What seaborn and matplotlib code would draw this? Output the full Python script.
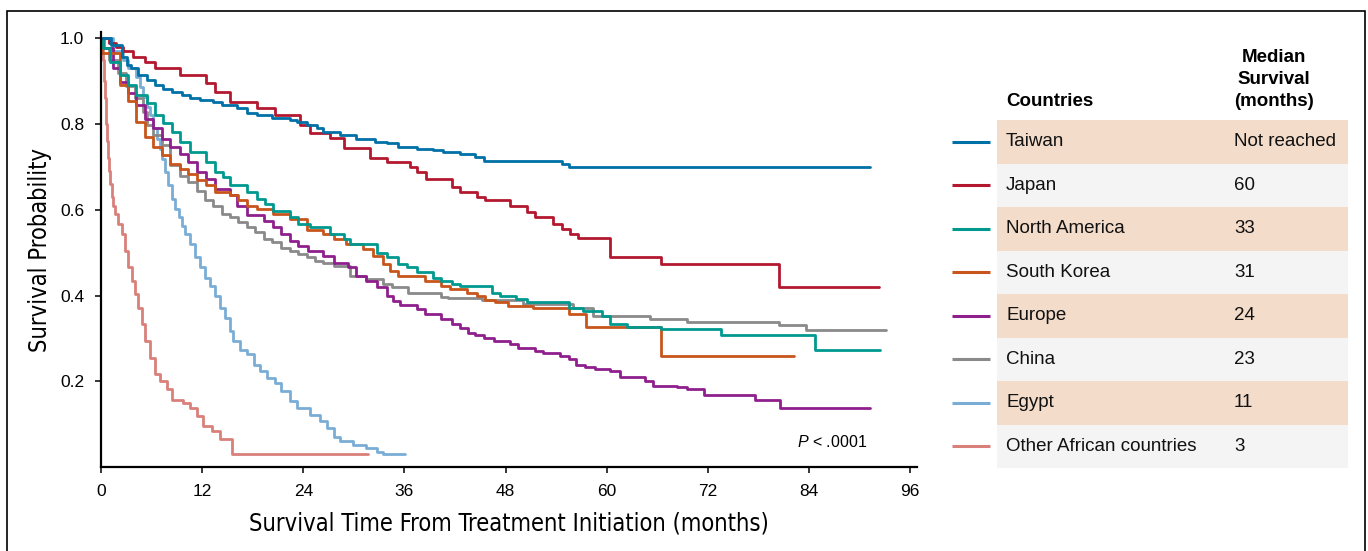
import numpy as np
import pandas as pd
import matplotlib
matplotlib.use("Agg")
import matplotlib.pyplot as plt
from matplotlib.patches import Rectangle
from matplotlib.lines import Line2D
import seaborn as sns

# ---------------- data ----------------
countries = ["Taiwan", "Japan", "North America", "South Korea", "Europe",
             "China", "Egypt", "Other African countries"]
median_survival = ["Not reached", "60", "33", "31", "24", "23", "11", "3"]
colors = ["#0071A7", "#B3182F", "#00998F", "#C8551C", "#8E1F8C",
          "#8A8A8A", "#7AADD6", "#D9807A"]

taiwan_t = [0, 1.15, 2.45, 3.05, 3.6, 4.4, 5.4, 6.4, 7.4, 8.4, 9.6, 10.6, 11.7, 13.3, 14.3, 16.1,
            17.3, 18.5, 20.3, 22.4, 23.2, 24.4, 25.6, 26.4, 28.4, 30.3, 32.5, 33.9, 35.3, 37.5,
            39.4, 40.6, 42.6, 44.4, 45.4, 54.7, 55.5, 91.2]
taiwan_s = [1.0, 0.985, 0.957, 0.938, 0.93, 0.915, 0.903, 0.891, 0.883, 0.875, 0.868, 0.861, 0.856,
            0.851, 0.844, 0.837, 0.827, 0.821, 0.815, 0.809, 0.805, 0.797, 0.79, 0.782, 0.774, 0.766,
            0.758, 0.755, 0.747, 0.743, 0.739, 0.735, 0.73, 0.723, 0.715, 0.708, 0.701, 0.701]

japan_t = [0, 0.9, 1.8, 2.65, 3.8, 5.2, 6.4, 9.4, 12.5, 13.5, 15.3, 18.5, 20.6, 23.6, 24.8, 27.2,
           28.8, 31.9, 33.9, 36.7, 37.5, 38.6, 41.6, 42.6, 44.6, 45.6, 48.5, 50.5, 51.5, 53.6, 54.7,
           55.7, 56.6, 60.4, 66.5, 80.5, 92.3]
japan_s = [1.0, 0.99, 0.98, 0.971, 0.957, 0.946, 0.93, 0.915, 0.896, 0.875, 0.852, 0.837, 0.821,
           0.797, 0.779, 0.767, 0.744, 0.72, 0.711, 0.70, 0.688, 0.673, 0.653, 0.641, 0.63, 0.622,
           0.61, 0.594, 0.584, 0.567, 0.555, 0.544, 0.534, 0.49, 0.473, 0.42, 0.42]

namerica_t = [0, 0.25, 1.05, 2.25, 3.2, 4.2, 5.4, 6.4, 7.4, 8.4, 9.4, 10.6, 12.5, 13.5, 14.5, 15.3,
              17.3, 18.5, 19.5, 20.4, 22.4, 23.4, 24.8, 27.2, 28.8, 29.6, 32.7, 33.9, 35.3, 36.3,
              37.5, 39.4, 40.4, 41.6, 42.6, 46.4, 47.3, 49.3, 50.5, 55.5, 57.2, 59.4, 60.4, 62.4,
              66.5, 73.6, 84.7, 92.4]
namerica_s = [1.0, 0.977, 0.946, 0.915, 0.891, 0.868, 0.849, 0.821, 0.802, 0.782, 0.758, 0.735,
              0.711, 0.688, 0.676, 0.657, 0.641, 0.626, 0.614, 0.598, 0.583, 0.568, 0.559, 0.544,
              0.533, 0.521, 0.50, 0.489, 0.473, 0.466, 0.454, 0.442, 0.434, 0.428, 0.423, 0.407,
              0.399, 0.392, 0.384, 0.372, 0.364, 0.352, 0.334, 0.327, 0.321, 0.308, 0.274, 0.274]

skorea_t = [0, 0.1, 2.25, 3.2, 4.2, 5.2, 6.2, 7.2, 8.2, 9.4, 10.3, 11.4, 12.5, 13.5, 15.3, 16.3,
            17.3, 18.5, 20.4, 22.4, 24.4, 26.4, 27.6, 29.1, 31.1, 32.3, 33.5, 34.3, 35.3, 38.4,
            40.4, 41.4, 43.4, 44.6, 45.6, 46.8, 48.3, 51.3, 55.5, 57.6, 66.5, 82.2]
skorea_s = [1.0, 0.965, 0.891, 0.855, 0.805, 0.77, 0.747, 0.727, 0.708, 0.696, 0.684, 0.669, 0.657,
            0.641, 0.634, 0.622, 0.61, 0.602, 0.591, 0.579, 0.552, 0.544, 0.533, 0.521, 0.509,
            0.493, 0.473, 0.458, 0.446, 0.434, 0.423, 0.415, 0.407, 0.399, 0.389, 0.384, 0.376,
            0.37, 0.358, 0.327, 0.259, 0.259]

europe_t = [0, 0.2, 1.4, 2.25, 3.2, 4.2, 5.2, 6.2, 7.2, 8.2, 9.4, 10.3, 11.4, 12.5, 13.5, 15.3,
            16.1, 17.3, 19.3, 20.4, 21.4, 22.4, 23.4, 24.6, 26.4, 27.6, 29.3, 30.3, 31.5, 32.7,
            33.9, 34.7, 35.5, 37.5, 38.4, 40.4, 41.6, 42.6, 43.6, 44.4, 45.4, 46.6, 48.5, 49.5,
            51.5, 52.5, 54.5, 55.5, 56.4, 57.4, 58.6, 60.4, 61.6, 64.6, 65.5, 68.3, 69.5, 71.5,
            77.6, 80.6, 91.2]
europe_s = [1.0, 0.977, 0.93, 0.899, 0.872, 0.844, 0.813, 0.79, 0.766, 0.747, 0.731, 0.711, 0.688,
            0.673, 0.649, 0.634, 0.608, 0.587, 0.575, 0.559, 0.544, 0.528, 0.516, 0.505, 0.493,
            0.477, 0.466, 0.446, 0.434, 0.419, 0.399, 0.388, 0.378, 0.368, 0.356, 0.345, 0.334,
            0.325, 0.313, 0.308, 0.302, 0.294, 0.286, 0.278, 0.27, 0.266, 0.259, 0.251, 0.239,
            0.233, 0.228, 0.224, 0.21, 0.20, 0.189, 0.186, 0.181, 0.167, 0.157, 0.138, 0.138]

china_t = [0, 0.3, 1.0, 2.0, 3.0, 4.0, 5.0, 5.5, 6.2, 7.2, 8.2, 9.4, 10.3, 11.4, 12.3, 13.3, 14.3,
           15.3, 16.3, 17.3, 18.3, 19.3, 20.3, 21.4, 22.4, 23.4, 24.4, 25.4, 26.4, 27.6, 29.5,
           31.5, 33.5, 34.5, 36.4, 37.5, 40.4, 41.2, 45.2, 50.1, 56.0, 58.4, 65.1, 69.5, 80.5,
           83.7, 93.2]
china_s = [1.0, 0.977, 0.95, 0.92, 0.89, 0.86, 0.829, 0.797, 0.774, 0.751, 0.704, 0.68, 0.665,
           0.645, 0.622, 0.61, 0.591, 0.583, 0.571, 0.559, 0.548, 0.532, 0.524, 0.512, 0.505,
           0.497, 0.489, 0.481, 0.477, 0.47, 0.446, 0.438, 0.427, 0.419, 0.407, 0.405, 0.397,
           0.395, 0.389, 0.381, 0.372, 0.352, 0.345, 0.338, 0.331, 0.319, 0.319]

egypt_t = [0, 1.4, 2.6, 3.2, 4.2, 4.6, 5.0, 5.4, 5.8, 6.2, 6.6, 7.0, 7.2, 7.6, 8.0, 8.4, 8.8, 9.2,
           9.6, 10.0, 10.6, 11.2, 11.7, 12.3, 12.9, 13.5, 14.1, 14.7, 15.3, 15.7, 16.5, 17.3, 18.1,
           18.9, 19.7, 20.6, 21.4, 22.4, 23.2, 24.8, 26.0, 26.8, 27.6, 28.4, 29.9, 31.5, 32.7,
           33.5, 36.1]
egypt_s = [1.0, 0.97, 0.95, 0.93, 0.911, 0.887, 0.864, 0.84, 0.821, 0.79, 0.766, 0.743, 0.719,
           0.688, 0.657, 0.626, 0.602, 0.583, 0.563, 0.544, 0.52, 0.489, 0.466, 0.442, 0.423,
           0.399, 0.372, 0.348, 0.317, 0.294, 0.274, 0.263, 0.239, 0.224, 0.208, 0.196, 0.177,
           0.153, 0.138, 0.122, 0.107, 0.091, 0.071, 0.06, 0.052, 0.044, 0.036, 0.03, 0.03]

africa_t = [0, 0.12, 0.24, 0.36, 0.47, 0.59, 0.71, 0.83, 0.95, 1.07, 1.31, 1.46, 1.66, 2.05, 2.46,
            2.85, 3.24, 3.64, 4.03, 4.43, 4.83, 5.22, 5.81, 6.41, 7.0, 7.8, 8.39, 9.77, 10.56,
            11.36, 12.14, 13.14, 14.12, 15.51, 31.72]
africa_s = [1.0, 0.98, 0.95, 0.9, 0.86, 0.80, 0.76, 0.72, 0.69, 0.66, 0.63, 0.61, 0.591, 0.567,
            0.544, 0.505, 0.466, 0.434, 0.403, 0.372, 0.333, 0.294, 0.255, 0.216, 0.20, 0.181,
            0.157, 0.149, 0.138, 0.118, 0.095, 0.083, 0.066, 0.031, 0.031]

series_t = [taiwan_t, japan_t, namerica_t, skorea_t, europe_t, china_t, egypt_t, africa_t]
series_s = [taiwan_s, japan_s, namerica_s, skorea_s, europe_s, china_s, egypt_s, africa_s]

x_ticks = [0, 12, 24, 36, 48, 60, 72, 84, 96]
y_ticks = [0.2, 0.4, 0.6, 0.8, 1.0]
y_ticklabels = ["0.2", "0.4", "0.6", "0.8", "1.0"]

# ---------------- style ----------------
sns.set_theme(style="ticks")
plt.rcParams["font.family"] = ["Liberation Sans", "DejaVu Sans"]
plt.rcParams["mathtext.fontset"] = "custom"
plt.rcParams["mathtext.it"] = "Liberation Sans:italic"
plt.rcParams["mathtext.rm"] = "Liberation Sans"

label_font = dict(family="DejaVu Sans", stretch="condensed")

W, H = 1368, 551
fig = plt.figure(figsize=(W / 100, H / 100), dpi=100)


def fx(px):
    return px / W


def fy(py):
    return 1 - py / H


ax = fig.add_axes([fx(101), fy(467), fx(917) - fx(101), fy(32) - fy(467)])

# draw in reverse so Taiwan ends on top
for i in reversed(range(len(countries))):
    df = pd.DataFrame({"t": series_t[i], "s": series_s[i]})
    sns.lineplot(data=df, x="t", y="s", ax=ax, color=colors[i], lw=2.0,
                 drawstyle="steps-post", estimator=None, sort=False, legend=False)

ax.set_xlim(0, 96.83)
ax.set_ylim(0, 1.015)
ax.set_xticks(x_ticks)
ax.set_xticklabels([str(v) for v in x_ticks])
ax.set_yticks(y_ticks)
ax.set_yticklabels(y_ticklabels)
for side in ["top", "right"]:
    ax.spines[side].set_visible(False)
for side in ["left", "bottom"]:
    ax.spines[side].set_linewidth(1.6)
    ax.spines[side].set_color("black")
ax.tick_params(axis="both", direction="out", length=4, width=1.1, color="black",
               labelsize=12.5, labelcolor="black")
ax.tick_params(axis="y", pad=8)
ax.tick_params(axis="x", pad=8)
ax.set_xlabel("Survival Time From Treatment Initiation (months)", fontsize=17,
              color="black", labelpad=9, **label_font)
ax.set_ylabel("Survival Probability", fontsize=17, color="black", labelpad=6, **label_font)

ax.text(90.9, 0.047, r"$\it{P}$ < .0001", fontsize=11.5, ha="right", va="baseline",
        color="black")

# ---------------- table legend ----------------
row_top = 120
row_h = 43.5
bg = ["#F3DCCA", "#F4F4F4"]
for i, (name, med) in enumerate(zip(countries, median_survival)):
    y0 = row_top + i * row_h
    yc = y0 + row_h / 2
    fig.patches.append(Rectangle((fx(997), fy(y0 + row_h)), fx(1348) - fx(997), row_h / H,
                                 transform=fig.transFigure, facecolor=bg[i % 2],
                                 edgecolor="none", zorder=0))
    fig.add_artist(Line2D([fx(952), fx(990)], [fy(yc), fy(yc)], transform=fig.transFigure,
                          color=colors[i], lw=2.2, solid_capstyle="butt"))
    fig.text(fx(1006), fy(yc), name, fontsize=13.5, va="center", ha="left", color="#111111")
    fig.text(fx(1234), fy(yc), med, fontsize=13.5, va="center", ha="left", color="#111111")

fig.text(fx(1006), fy(102), "Countries", fontsize=13.5, fontweight="bold",
         va="center", ha="left", color="black")
for line, yy in zip(["Median", "Survival", "(months)"], [58, 80, 102]):
    fig.text(fx(1274), fy(yy), line, fontsize=13.5, fontweight="bold",
             va="center", ha="center", color="black")

# outer frame
fig.patches.append(Rectangle((fx(7), -0.1), fx(1364.5) - fx(7), fy(11) + 0.1,
                             transform=fig.transFigure, facecolor="none",
                             edgecolor="black", lw=1.2, zorder=5))

fig.savefig("out.png", dpi=100)
